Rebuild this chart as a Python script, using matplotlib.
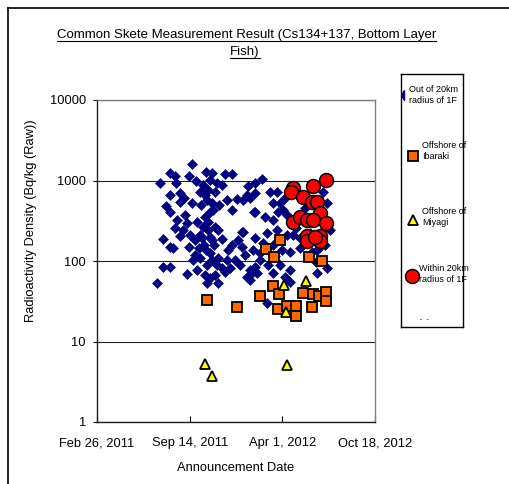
import numpy as np
import matplotlib
matplotlib.use("Agg")
import matplotlib.pyplot as plt
from matplotlib.lines import Line2D
from matplotlib.ticker import FixedLocator, NullLocator

plt.rcParams["font.family"] = ["Liberation Sans", "DejaVu Sans"]

START = np.datetime64("2011-02-26")

# announcement date (days after 2011-02-26) and density (Bq/kg)
out20_days = [205, 158, 168, 136, 170, 199, 214, 235, 248, 276, 291, 158, 179, 149, 158,
              179, 188, 205, 222, 240, 259, 255, 237, 248, 281, 302, 324, 341, 339, 173,
              168, 179, 194, 216, 233, 244, 229, 240, 255, 261, 244, 227, 270, 142, 158,
              164, 199, 220, 313, 313, 337, 207, 222, 244, 248, 261, 281, 298, 259, 237,
              216, 142, 158, 194, 244, 237, 261, 129, 276, 287, 330, 326, 345, 367, 330,
              416, 356, 341, 330, 315, 373, 388, 380, 395, 401, 391, 341, 363, 380, 410,
              406, 488, 496, 315, 341, 367, 388, 410, 358, 380, 399, 416, 438, 438, 464,
              475, 481, 496, 475, 416, 395, 352, 341, 337, 324, 380, 406, 369, 384, 352,
              423, 449, 503, 492, 473, 460, 429, 229, 233, 244, 250, 231, 235, 253, 224,
              240, 248, 222, 212, 190, 186, 201, 212, 233, 255, 270, 283, 291, 304, 320,
              309, 270, 326, 291, 263]
out20_vals = [1603, 1239, 1138, 931, 931, 1138, 986, 1270, 1239, 1205, 1205, 661, 700, 482, 406,
              541, 607, 525, 720, 762, 931, 720, 573, 525, 573, 589, 661, 931, 406, 323,
              257, 205, 296, 305, 352, 406, 264, 243, 264, 243, 199, 193, 188, 188, 149,
              145, 149, 145, 229, 149, 137, 103, 109, 126, 103, 109, 103, 103, 89, 89,
              77, 84, 84, 69, 62, 53, 53, 53, 73, 82, 77, 62, 71, 30, 58,
              55, 1044, 700, 607, 573, 720, 720, 525, 525, 430, 406, 406, 352, 323, 373,
              607, 720, 525, 229, 193, 223, 243, 210, 167, 158, 137, 129, 193, 145, 129,
              137, 149, 82, 71, 77, 89, 103, 84, 73, 63, 71, 63, 89, 115, 126,
              210, 455, 243, 158, 96, 223, 257, 885, 661, 1014, 430, 158, 137, 158, 500,
              305, 182, 210, 182, 373, 243, 210, 118, 67, 67, 82, 137, 158, 182, 118,
              89, 885, 855, 430, 500]

ibaraki_days = [395, 365, 382, 457, 486, 380, 393, 352, 445, 466, 479, 494, 237, 302, 391,
                410, 429, 429, 464, 494]
ibaraki_vals = [182, 141, 112, 112, 100, 49, 39, 37, 40, 39, 37, 41, 33, 27, 25,
                28, 28, 21, 27, 32]

miyagi_days = [233, 248, 410, 404, 451, 408]
miyagi_vals = [5.25, 3.73, 5.1, 50, 56, 23]

within20_days = [423, 419, 445, 466, 494, 464, 475, 481, 423, 438, 453, 466, 494, 453, 453,
                 481, 481, 470]
within20_vals = [808, 720, 624, 855, 1014, 541, 541, 395, 305, 352, 323, 323, 296, 205, 177,
                 205, 177, 199]

tick_dates = ["2011-02-26", "2011-09-14", "2012-04-01", "2012-10-18"]
y_ticks = [1, 10, 100, 1000, 10000]

legend_labels = ["Out of 20km\nradius of 1F", "Offshore of\nIbaraki",
                 "Offshore of\nMiyagi", "Within 20km\nradius of 1F"]


def to_dates(days):
    return START + np.array(days, dtype="timedelta64[D]")


W, H = 509, 484
fig = plt.figure(figsize=(W / 100, H / 100), dpi=100)
ax = fig.add_axes([97 / W, 1 - 422 / H, 278 / W, 322 / H])

ax.plot(to_dates(out20_days), out20_vals, ls="none", marker="D", ms=5.1,
        mfc="#000080", mec="#000080", mew=0.4)
ax.plot(to_dates(ibaraki_days), ibaraki_vals, ls="none", marker="s", ms=6.6,
        mfc="#FF6600", mec="black", mew=1.3)
ax.plot(to_dates(miyagi_days), miyagi_vals, ls="none", marker="^", ms=7.3,
        mfc="#FFFF00", mec="black", mew=1.3)
ax.plot(to_dates(within20_days), within20_vals, ls="none", marker="o", ms=10,
        mfc="#FF0000", mec="black", mew=1.1)

ax.set_yscale("log")
ax.set_ylim(1, 10000)
ax.yaxis.set_major_locator(FixedLocator(y_ticks))
ax.yaxis.set_minor_locator(NullLocator())
ax.set_yticklabels([str(v) for v in y_ticks])

ticks = [np.datetime64(d) for d in tick_dates]
ax.set_xlim(ticks[0], ticks[-1])
ax.set_xticks(ticks)
ax.set_xticklabels([f"{d:%b} {d.day}, {d.year}" for d in
                    [np.datetime64(t, "D").astype(object) for t in tick_dates]])
ax.xaxis.set_minor_locator(NullLocator())

ax.tick_params(axis="y", direction="out", length=3, pad=5, labelsize=9.3, width=0.8)
ax.tick_params(axis="x", direction="in", length=4, pad=11, labelsize=9.3, width=0.8)

ax.yaxis.grid(True, color="#202020", lw=0.8)
ax.set_axisbelow(True)
for side in ["left", "bottom"]:
    ax.spines[side].set_color("#202020")
    ax.spines[side].set_linewidth(1.0)
for side in ["top", "right"]:
    ax.spines[side].set_color("#808080")
    ax.spines[side].set_linewidth(1.0)

ax.set_xlabel("Announcement Date", fontsize=9.3, labelpad=9)
ax.set_ylabel("Radioactivity Density (Bq/kg (Raw))", fontsize=9.3)
ax.yaxis.set_label_coords((37 - 97) / 278, (422 - 221) / 322)

# title, underlined
t1 = fig.text(246.5 / W, 1 - 38 / H, "Common Skete Measurement Result (Cs134+137, Bottom Layer",
              ha="center", va="baseline", fontsize=9.5)
t2 = fig.text(245 / W, 1 - 55 / H, "Fish)", ha="center", va="baseline", fontsize=9.5)
fig.canvas.draw()
renderer = fig.canvas.get_renderer()
for t, yb in [(t1, 40.5), (t2, 57.5)]:
    bb = t.get_window_extent(renderer)
    fig.add_artist(Line2D([bb.x0 / W, bb.x1 / W], [1 - yb / H, 1 - yb / H],
                          color="black", lw=0.8, transform=fig.transFigure))

# legend box
lg = fig.add_axes([401 / W, 1 - 327 / H, 62 / W, 253 / H])
lg.set_xlim(0, 1)
lg.set_ylim(0, 1)
lg.set_xticks([])
lg.set_yticks([])
for s in lg.spines.values():
    s.set_color("black")
    s.set_linewidth(1.0)

half_diamond = [(0, 1), (-0.6, 0), (0, -1), (0, 1)]
lg.plot([0.05], [0.917], marker=half_diamond, ms=7, color="#000080", ls="none")
lg.plot([0.19], [0.676], marker="s", ms=6.6, mfc="#FF6600", mec="black", mew=1.3, ls="none")
lg.plot([0.19], [0.423], marker="^", ms=7.3, mfc="#FFFF00", mec="black", mew=1.3, ls="none")
lg.plot([0.18], [0.202], marker="o", ms=10, mfc="#FF0000", mec="black", mew=1.1, ls="none")
for (x, y), lab in zip([(0.13, 0.917), (0.34, 0.696), (0.34, 0.435), (0.29, 0.209)],
                       legend_labels):
    lg.text(x, y, lab, ha="left", va="center", fontsize=6.5, linespacing=1.25)
lg.text(0.3, 0.015, "-  -", ha="left", va="bottom", fontsize=5)

# outer chart border (clipped by the image on the right and bottom)
fig.add_artist(Line2D([8 / W, 1], [1 - 8 / H, 1 - 8 / H], color="black", lw=1.2,
                      transform=fig.transFigure))
fig.add_artist(Line2D([8 / W, 8 / W], [0, 1 - 8 / H], color="black", lw=1.2,
                      transform=fig.transFigure))

fig.savefig("out.png", dpi=100)
